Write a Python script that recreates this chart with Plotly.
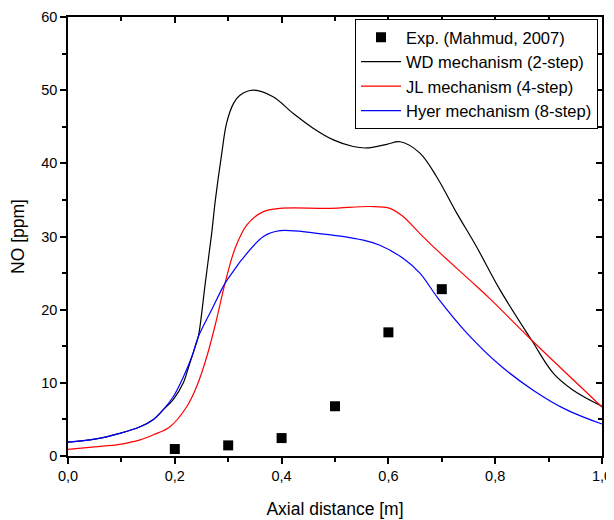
import plotly.graph_objects as go

# Experimental data
x_exp = [0.2, 0.3, 0.4, 0.5, 0.6, 0.7]
y_exp = [0.95, 1.45, 2.45, 6.8, 16.9, 22.8]

# WD mechanism (2-step)
x_wd = [0, 0.05, 0.097, 0.135, 0.16, 0.178, 0.197, 0.216, 0.226, 0.238, 0.244, 0.257, 0.269,
        0.276, 0.288, 0.297, 0.31, 0.322, 0.347, 0.384, 0.422, 0.459, 0.497, 0.534, 0.559,
        0.597, 0.622, 0.659, 0.69, 0.728, 0.765, 0.809, 0.868, 0.909, 0.946, 1.0]
y_wd = [1.9, 2.3, 3.09, 4.0, 5.0, 6.3, 7.7, 10.0, 12.2, 14.9, 16.3, 23.6, 30.4,
        35.0, 41.4, 45.5, 48.2, 49.3, 50.0, 49.1, 46.8, 44.8, 43.2, 42.3, 42.1,
        42.6, 42.95, 41.4, 38.2, 33.2, 28.6, 22.7, 15.85, 11.3, 9.0, 6.8]

# JL mechanism (4-step)
x_jl = [0, 0.05, 0.097, 0.135, 0.16, 0.191, 0.222, 0.241, 0.26, 0.278, 0.294, 0.313,
        0.335, 0.366, 0.397, 0.491, 0.566, 0.603, 0.628, 0.659, 0.69, 0.753, 0.79,
        0.868, 1.0]
y_jl = [0.9, 1.25, 1.6, 2.2, 2.9, 4.0, 6.7, 9.5, 13.6, 18.6, 23.6, 28.4,
        31.6, 33.4, 33.85, 33.85, 34.1, 33.85, 32.7, 30.4, 28.2, 24.0, 21.5,
        15.85, 6.7]

# Hyer mechanism (8-step)
x_hy = [0, 0.05, 0.097, 0.135, 0.16, 0.178, 0.197, 0.216, 0.232, 0.244, 0.269, 0.294,
        0.313, 0.325, 0.366, 0.397, 0.459, 0.553, 0.584, 0.628, 0.659, 0.693, 0.747,
        0.809, 0.871, 0.934, 1.0]
y_hy = [1.9, 2.3, 3.09, 4.0, 5.0, 6.3, 8.1, 10.8, 13.6, 16.3, 20.0, 23.6,
        25.6, 26.8, 30.0, 30.8, 30.5, 29.5, 28.8, 27.0, 25.0, 21.55, 16.8,
        12.4, 9.0, 6.3, 4.37]

x_ticks = [0, 0.2, 0.4, 0.6, 0.8, 1.0]
x_tick_labels = ["0,0", "0,2", "0,4", "0,6", "0,8", "1,0"]
y_ticks = [0, 10, 20, 30, 40, 50, 60]

FONT = "Arial, Liberation Sans, sans-serif"

fig = go.Figure()
fig.add_trace(go.Scatter(x=x_exp, y=y_exp, mode="markers", name="Exp. (Mahmud, 2007)",
                         marker=dict(symbol="square", size=10, color="black")))
line_style = dict(width=1.2, shape="spline", smoothing=1.0)
fig.add_trace(go.Scatter(x=x_wd, y=y_wd, mode="lines", name="WD mechanism (2-step)",
                         line=dict(color="black", **line_style)))
fig.add_trace(go.Scatter(x=x_jl, y=y_jl, mode="lines", name="JL mechanism (4-step)",
                         line=dict(color="#ff0000", **line_style)))
fig.add_trace(go.Scatter(x=x_hy, y=y_hy, mode="lines", name="Hyer mechanism (8-step)",
                         line=dict(color="#0000ff", **line_style)))
# invisible trace to activate mirrored axes
fig.add_trace(go.Scatter(x=[0], y=[0], xaxis="x2", yaxis="y2", mode="markers",
                         marker=dict(opacity=0), showlegend=False, hoverinfo="skip"))

axis_common = dict(showgrid=False, zeroline=False, showline=True, linecolor="black",
                   linewidth=1.5, tickcolor="black", tickwidth=1.5, automargin=False)

fig.update_layout(
    width=606, height=512,
    margin=dict(l=60, r=12, t=9, b=64),
    paper_bgcolor="white", plot_bgcolor="white",
    font=dict(family=FONT, color="black"),
    xaxis=dict(range=[0, 1.0], tickvals=x_ticks, ticktext=x_tick_labels, ticks="outside",
               ticklen=6, tickfont=dict(size=14.5),
               minor=dict(dtick=0.1, tick0=0, ticks="outside", ticklen=4, tickcolor="black", tickwidth=1.5),
               title=dict(text="Axial distance [m]", font=dict(size=17.5), standoff=20),
               **axis_common),
    yaxis=dict(range=[0, 60], tickvals=y_ticks, ticks="outside", ticklen=6,
               tickfont=dict(size=14.5),
               minor=dict(dtick=5, tick0=0, ticks="outside", ticklen=4, tickcolor="black", tickwidth=1.5),
               title=dict(text="NO [ppm]", font=dict(size=17.5), standoff=15),
               **axis_common),
    xaxis2=dict(range=[0, 1.0], overlaying="x", side="top", tickvals=x_ticks, showticklabels=False,
                ticks="inside", ticklen=6,
                minor=dict(dtick=0.1, tick0=0, ticks="inside", ticklen=4, tickcolor="black", tickwidth=1.5),
                anchor="y2", **axis_common),
    yaxis2=dict(range=[0, 60], overlaying="y", side="right", tickvals=y_ticks, showticklabels=False,
                ticks="inside", ticklen=6,
                minor=dict(dtick=5, tick0=0, ticks="inside", ticklen=4, tickcolor="black", tickwidth=1.5),
                anchor="x2", **axis_common),
    legend=dict(x=0.9925, y=0.9954, xanchor="right", yanchor="top",
                bordercolor="black", borderwidth=1, bgcolor="white",
                font=dict(size=16.5, family=FONT), tracegroupgap=0, itemwidth=40),
    showlegend=True,
)

fig.write_html("out.html")
